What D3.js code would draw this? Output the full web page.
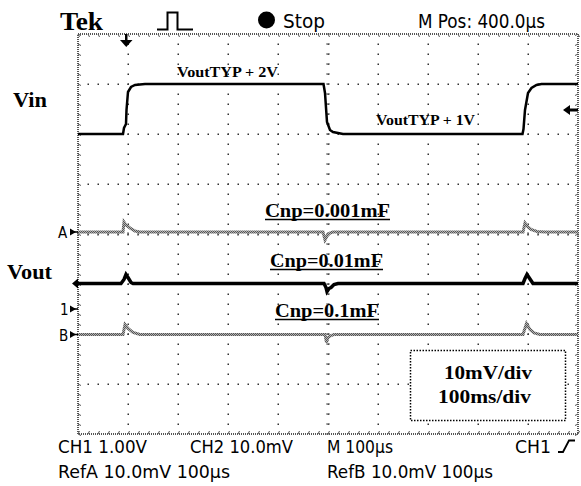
<!DOCTYPE html>
<html>
<head>
<meta charset="utf-8">
<script src="https://cdn.jsdelivr.net/npm/d3@7"></script>
<style>
  html, body { margin: 0; padding: 0; background: #fff; }
  svg { display: block; }
  .ui { font-family: "DejaVu Sans Condensed", "Liberation Sans Narrow", "DejaVu Sans", sans-serif; fill: #000; }
  .note { font-family: "Liberation Serif", "Times New Roman", serif; font-weight: bold; fill: #000; }
</style>
</head>
<body>
<svg id="scope" width="581" height="486"></svg>
<script>
// ---- Acquisition settings ----
const timeRangeUs = [0, 1000];          // 10 divisions at 100 µs/div
const divRange = [-4, 4];               // 8 vertical divisions
const ch1VoltsPerDiv = 1.0;
const ch1OffsetDiv = -1.5;              // CH1 ground marker
const ch2mVPerDiv = 10;
const refAOffsetDiv = 0.04;
const ch2OffsetDiv = -0.99;
const refBOffsetDiv = -2.01;

// ---- Waveforms: [time µs, value] ----
// CH1 input step (V)
const vinPoints = [
  [0, 3.5], [90, 3.5], [92, 3.62], [96, 3.7], [97, 3.98], [100, 4.34], [106, 4.44], [114, 4.48], [134, 4.5],
  [491, 4.5], [494, 4.32], [498, 3.74], [504, 3.58], [510, 3.54], [530, 3.5],
  [889, 3.5], [891, 3.6], [894, 3.98], [900, 4.32], [907, 4.42], [917, 4.48], [927, 4.5], [1000, 4.5]
];
// RefA output, Cnp = 0.001 mF (mV)
const refAPoints = [
  [0, 0], [90, 0], [92, 2.0], [96, 1.4], [104, 0.8], [114, 0.2], [124, 0],
  [490, 0], [494, -1.6], [498, -0.8], [504, -0.2], [510, 0],
  [890, 0], [894, 1.8], [900, 1.0], [906, 0.5], [918, 0.1], [934, 0], [1000, 0]
];
// CH2 output, Cnp = 0.01 mF (mV)
const ch2Points = [
  [0, 0], [86, 0], [92, 0.8], [96, 1.8], [100, 1.2], [106, 0.2], [110, 0],
  [492, 0], [496, -0.8], [498, -1.6], [502, -1.0], [506, -0.8], [512, -0.2], [520, 0],
  [890, 0], [894, 1.0], [898, 1.8], [902, 1.2], [906, 0.6], [910, 0], [1000, 0]
];
// RefB output, Cnp = 0.1 mF (mV)
const refBPoints = [
  [0, 0], [90, 0], [94, 2.0], [100, 1.2], [110, 0.4], [124, 0],
  [494, 0], [497, -1.6], [500, -0.6], [506, -0.2], [512, 0],
  [890, 0], [897, 2.2], [904, 1.0], [912, 0.3], [924, 0], [1000, 0]
];

// ---- Text ----
const headerLabels = { brand: "Tek", state: "Stop", position: "M Pos: 400.0µs" };
const footerRow1 = ["CH1 1.00V", "CH2 10.0mV", "M 100µs", "CH1"];
const footerRow2 = ["RefA 10.0mV 100µs", "RefB 10.0mV 100µs"];
const levelLabels = ["VoutTYP + 2V", "VoutTYP + 1V"];
const capLabels = ["Cnp=0.001mF", "Cnp=0.01mF", "Cnp=0.1mF"];
const scaleLabels = ["10mV/div", "100ms/div"];

const svg = d3.select("#scope");
const plot = { left: 78, right: 578, top: 34, bottom: 434 };

// checkered stroke used for reference waveforms
const defs = svg.append("defs");
const checker = defs.append("pattern").attr("id", "checker").attr("patternUnits", "userSpaceOnUse")
  .attr("width", 2).attr("height", 2);
checker.append("rect").attr("width", 2).attr("height", 2).attr("fill", "#b4b4b4");
checker.append("rect").attr("width", 1).attr("height", 1).attr("fill", "#555");
checker.append("rect").attr("x", 1).attr("y", 1).attr("width", 1).attr("height", 1).attr("fill", "#555");

const x = d3.scaleLinear().domain(timeRangeUs).range([plot.left, plot.right]);
const y = d3.scaleLinear().domain(divRange).range([plot.bottom, plot.top]);

// ---- Graticule ----
const grid = svg.append("g");
const xDivs = d3.range(timeRangeUs[0], timeRangeUs[1] + 1, 100);
const yDivs = d3.range(divRange[0], divRange[1] + 1, 1);
const xMinor = d3.range(timeRangeUs[0], timeRangeUs[1] + 1, 20);
const yMinor = d3.range(divRange[0], divRange[1] + 0.001, 0.2);

// dotted lines through the interior divisions
xDivs.slice(1, -1).forEach(t => {
  yMinor.slice(1, -1).forEach(d => {
    grid.append("rect").attr("x", x(t) - 0.5).attr("y", y(d) - 0.5)
      .attr("width", 1.5).attr("height", 1.5).attr("fill", "#333");
  });
});
yDivs.slice(1, -1).forEach(d => {
  xMinor.slice(1, -1).forEach(t => {
    grid.append("rect").attr("x", x(t) - 0.5).attr("y", y(d) - 0.5)
      .attr("width", 1.5).attr("height", 1.5).attr("fill", "#333");
  });
});
// centre cross minor ticks
yMinor.forEach(d => {
  grid.append("line").attr("x1", x(500) - 2).attr("x2", x(500) + 2)
    .attr("y1", y(d)).attr("y2", y(d)).attr("stroke", "#666").attr("stroke-width", 1);
});
xMinor.forEach(t => {
  grid.append("line").attr("x1", x(t)).attr("x2", x(t))
    .attr("y1", y(0) - 2).attr("y2", y(0) + 2).attr("stroke", "#666").attr("stroke-width", 1);
});
// frame with inward ticks
grid.append("rect").attr("x", plot.left).attr("y", plot.top)
  .attr("width", plot.right - plot.left).attr("height", plot.bottom - plot.top)
  .attr("fill", "none").attr("stroke", "#555").attr("stroke-width", 2).attr("stroke-dasharray", "1,1");
xMinor.forEach(t => {
  grid.append("line").attr("x1", x(t)).attr("x2", x(t) + 1.5).attr("y1", plot.top).attr("y2", plot.top + 3)
    .attr("stroke", "#555").attr("stroke-width", 1);
  grid.append("line").attr("x1", x(t)).attr("x2", x(t) + 1.5).attr("y1", plot.bottom).attr("y2", plot.bottom - 3)
    .attr("stroke", "#555").attr("stroke-width", 1);
});
yMinor.forEach(d => {
  grid.append("line").attr("x1", plot.left).attr("x2", plot.left + 3).attr("y1", y(d)).attr("y2", y(d) + 1.5)
    .attr("stroke", "#555").attr("stroke-width", 1);
  grid.append("line").attr("x1", plot.right).attr("x2", plot.right - 3).attr("y1", y(d)).attr("y2", y(d) + 1.5)
    .attr("stroke", "#555").attr("stroke-width", 1);
});

// ---- Traces ----
function traceLine(toDiv) {
  return d3.line().x(p => x(p[0])).y(p => y(toDiv(p[1]))).curve(d3.curveLinear);
}
const traces = svg.append("g");
traces.append("path").datum(refAPoints)
  .attr("d", traceLine(v => v / ch2mVPerDiv + refAOffsetDiv))
  .attr("fill", "none").attr("stroke", "url(#checker)").attr("stroke-width", 3);
traces.append("path").datum(refBPoints)
  .attr("d", traceLine(v => v / ch2mVPerDiv + refBOffsetDiv))
  .attr("fill", "none").attr("stroke", "url(#checker)").attr("stroke-width", 3);
traces.append("path").datum(ch2Points)
  .attr("d", traceLine(v => v / ch2mVPerDiv + ch2OffsetDiv))
  .attr("fill", "none").attr("stroke", "#000").attr("stroke-width", 3.5);
traces.append("path").datum(vinPoints)
  .attr("d", traceLine(v => v / ch1VoltsPerDiv + ch1OffsetDiv))
  .attr("fill", "none").attr("stroke", "#000").attr("stroke-width", 2.5);

// ---- Markers ----
const mk = svg.append("g");
// trigger position (top)
const trigX = x(96);
mk.append("rect").attr("x", trigX - 1).attr("y", plot.top).attr("width", 2.5).attr("height", 7).attr("fill", "#000");
mk.append("path").attr("d", `M${trigX - 6},${plot.top + 6} L${trigX + 6.5},${plot.top + 6} L${trigX + 0.25},${plot.top + 13} Z`).attr("fill", "#000");
// trigger level (right)
const trigY = y(4.0 / ch1VoltsPerDiv + ch1OffsetDiv) + 1;
mk.append("path").attr("d", `M${plot.right - 15},${trigY} L${plot.right - 8},${trigY - 5} L${plot.right - 8},${trigY + 5} Z`).attr("fill", "#000");
mk.append("rect").attr("x", plot.right - 9).attr("y", trigY - 1.5).attr("width", 9).attr("height", 3).attr("fill", "#000");
// channel/reference ground markers (left)
function leftArrow(yy) {
  mk.append("path").attr("d", `M${plot.left - 8},${yy - 3.5} L${plot.left - 2},${yy} L${plot.left - 8},${yy + 3.5} Z`).attr("fill", "#000");
  mk.append("rect").attr("x", plot.left - 4).attr("y", yy - 0.75).attr("width", 4).attr("height", 1.5).attr("fill", "#000");
}
const yA = y(refAOffsetDiv), yB = y(refBOffsetDiv), y1 = y(ch1OffsetDiv), y2 = y(ch2OffsetDiv);
leftArrow(yA); leftArrow(yB); leftArrow(y1);
mk.append("text").attr("class", "ui").attr("x", 58).attr("y", yA + 6).attr("font-size", 15).text("A");
mk.append("text").attr("class", "ui").attr("x", 59).attr("y", yB + 6).attr("font-size", 15).text("B");
mk.append("text").attr("class", "ui").attr("x", 60).attr("y", y1 + 6).attr("font-size", 15).text("1");
mk.append("path").attr("d", `M${plot.left - 6},${y2} L${plot.left},${y2 - 5} L${plot.left},${y2 + 5} Z`).attr("fill", "#000");

// ---- Header ----
const head = svg.append("g");
head.append("text").attr("class", "note").attr("x", 60).attr("y", 30)
  .attr("font-size", 26).attr("textLength", 43).attr("lengthAdjust", "spacingAndGlyphs").text(headerLabels.brand);
head.append("path").attr("d", "M157,29.5 H167.5 V12.5 H177.5 V29.5 H193")
  .attr("fill", "none").attr("stroke", "#000").attr("stroke-width", 2);
head.append("circle").attr("cx", 266.5).attr("cy", 20).attr("r", 8.5).attr("fill", "#000");
head.append("text").attr("class", "ui").attr("x", 283).attr("y", 27.5)
  .attr("font-size", 20).attr("textLength", 42).attr("lengthAdjust", "spacingAndGlyphs").text(headerLabels.state);
head.append("text").attr("class", "ui").attr("x", 418).attr("y", 27.5)
  .attr("font-size", 20).attr("textLength", 127).attr("lengthAdjust", "spacingAndGlyphs").text(headerLabels.position);

// ---- Footer ----
const foot = svg.append("g");
const row1 = [[58, 89], [190, 103], [327, 66], [515, 36]];
footerRow1.forEach((s, i) => {
  foot.append("text").attr("class", "ui").attr("x", row1[i][0]).attr("y", 452.5)
    .attr("font-size", 17.5).attr("textLength", row1[i][1]).attr("lengthAdjust", "spacingAndGlyphs").text(s);
});
foot.append("path").attr("d", "M558,452 H563 L569,440.5 H575").attr("fill", "none").attr("stroke", "#000").attr("stroke-width", 1.8);
const row2 = [[58, 172], [327, 166]];
footerRow2.forEach((s, i) => {
  foot.append("text").attr("class", "ui").attr("x", row2[i][0]).attr("y", 477.5)
    .attr("font-size", 17.5).attr("textLength", row2[i][1]).attr("lengthAdjust", "spacingAndGlyphs").text(s);
});

// ---- Annotations ----
const ann = svg.append("g");
ann.append("text").attr("class", "note").attr("x", 13).attr("y", 107).attr("font-size", 22)
  .attr("textLength", 34).attr("lengthAdjust", "spacingAndGlyphs").text("Vin");
ann.append("text").attr("class", "note").attr("x", 7).attr("y", 279).attr("font-size", 21)
  .attr("textLength", 45).attr("lengthAdjust", "spacingAndGlyphs").text("Vout");
ann.append("text").attr("class", "note").attr("x", 177).attr("y", 77).attr("font-size", 14.5)
  .attr("textLength", 101).attr("lengthAdjust", "spacingAndGlyphs").text(levelLabels[0]);
ann.append("text").attr("class", "note").attr("x", 376).attr("y", 125).attr("font-size", 14.5)
  .attr("textLength", 99).attr("lengthAdjust", "spacingAndGlyphs").text(levelLabels[1]);

const capPos = [[265, 217, 125], [270, 267, 113], [275, 317, 104]];
capLabels.forEach((s, i) => {
  const [cx, cy, w] = capPos[i];
  ann.append("text").attr("class", "note").attr("x", cx).attr("y", cy).attr("font-size", 18.5)
    .attr("textLength", w).attr("lengthAdjust", "spacingAndGlyphs").text(s);
  ann.append("line").attr("x1", cx).attr("x2", cx + w).attr("y1", cy + 2.5).attr("y2", cy + 2.5)
    .attr("stroke", "#000").attr("stroke-width", 1.5);
});

ann.append("rect").attr("x", 410.5).attr("y", 350.5).attr("width", 155).attr("height", 70)
  .attr("fill", "#fff").attr("stroke", "#000").attr("stroke-width", 1.5).attr("stroke-dasharray", "1.5,1.5");
ann.append("text").attr("class", "note").attr("x", 444).attr("y", 379).attr("font-size", 18.5)
  .attr("textLength", 88).attr("lengthAdjust", "spacingAndGlyphs").text(scaleLabels[0]);
ann.append("text").attr("class", "note").attr("x", 438).attr("y", 403).attr("font-size", 18.5)
  .attr("textLength", 93).attr("lengthAdjust", "spacingAndGlyphs").text(scaleLabels[1]);
</script>
</body>
</html>
